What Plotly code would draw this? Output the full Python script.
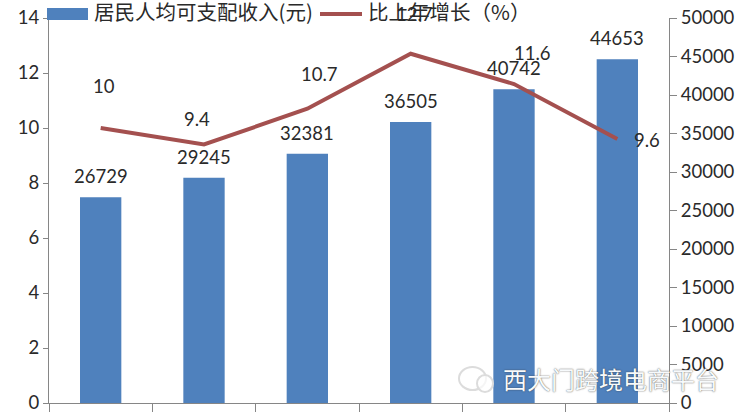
import plotly.graph_objects as go

positions = [0, 1, 2, 3, 4, 5]
income = [26729, 29245, 32381, 36505, 40742, 44653]
growth = [10, 9.4, 10.7, 12.7, 11.6, 9.6]
income_name = "居民人均可支配收入(元)"
growth_name = "比上年增长（%）"
left_ticks = [0, 2, 4, 6, 8, 10, 12, 14]
right_ticks = [0, 5000, 10000, 15000, 20000, 25000, 30000, 35000, 40000, 45000, 50000]
category_edges = [-0.5, 0.5, 1.5, 2.5, 3.5, 4.5, 5.5]
growth_offsets = [(3, -42), (-7, -26), (12, -35), (4, -40), (18, -31), (30, 1)]
watermark = "西大门跨境电商平台"

INK = "#2a2a2a"
AXIS = "#868686"
NUM = "Lato, Carlito, Liberation Sans, sans-serif"
CJK = "Noto Sans CJK SC, sans-serif"
NUM_SIZE = 18.5

fig = go.Figure()
fig.add_trace(go.Bar(x=positions, y=income, name=income_name, width=0.4,
                     marker=dict(color="#4f81bd", line_width=0), yaxis="y", showlegend=False))
fig.add_trace(go.Scatter(x=positions, y=growth, name=growth_name, mode="lines",
                         line=dict(color="#a4504f", width=4), yaxis="y2", showlegend=False))

ann = []
for x, v in zip(positions, income):
    ann.append(dict(x=x, y=v, xref="x", yref="y", text=str(v), showarrow=False,
                    yshift=21, font=dict(family=NUM, size=NUM_SIZE, color=INK)))
for x, v, (dx, dy) in zip(positions, growth, growth_offsets):
    ann.append(dict(x=x, y=v, xref="x", yref="y2", text=str(v), showarrow=False,
                    xshift=dx, yshift=-dy, font=dict(family=NUM, size=NUM_SIZE, color=INK)))

W, H = 741, 415
L, R, T, B = 49, 669, 18, 403
def fx(v): return (v - L) / (R - L)
def fy(v): return (B - v) / (B - T)

# legend keys and labels
shapes = [
    dict(type="rect", xref="paper", yref="paper", x0=fx(47), x1=fx(88), y0=fy(20), y1=fy(8),
         fillcolor="#4f81bd", line_width=0, layer="above"),
    dict(type="line", xref="paper", yref="paper", x0=fx(320), x1=fx(362), y0=fy(14), y1=fy(14),
         line=dict(color="#a4504f", width=4), layer="above"),
    dict(type="circle", xref="paper", yref="paper", x0=fx(459), x1=fx(486), y0=fy(390), y1=fy(367),
         fillcolor="rgba(255,255,255,0.7)", line=dict(color="#dcdcdc", width=2), layer="above"),
    dict(type="circle", xref="paper", yref="paper", x0=fx(477), x1=fx(493), y0=fy(392), y1=fy(375),
         fillcolor="rgba(255,255,255,0.7)", line=dict(color="#dcdcdc", width=2), layer="above"),
]
ann.append(dict(xref="paper", yref="paper", x=fx(92), y=fy(11), xanchor="left", yanchor="middle",
                text=income_name, showarrow=False, font=dict(family=CJK, size=20.5, color=INK)))
ann.append(dict(xref="paper", yref="paper", x=fx(366), y=fy(11), xanchor="left", yanchor="middle",
                text=growth_name, showarrow=False, font=dict(family=CJK, size=20.5, color=INK)))
ann.append(dict(xref="paper", yref="paper", x=fx(501), y=fy(378), xanchor="left", yanchor="middle",
                text=watermark, showarrow=False,
                font=dict(family=CJK, size=24, color="#f7fafc", shadow="0 0 1.5px #333")))

fig.update_layout(
    width=W, height=H, margin=dict(l=L, r=W - R, t=T, b=H - B, pad=0),
    paper_bgcolor="white", plot_bgcolor="white", bargap=0.6, showlegend=False,
    xaxis=dict(range=[-0.5, 5.5], tickmode="array", tickvals=category_edges, automargin=False,
               ticktext=[""] * len(category_edges), ticks="outside", ticklen=8, tickcolor=AXIS,
               showgrid=False, showline=True, linecolor=AXIS, zeroline=False),
    yaxis=dict(range=[0, 50000], side="right", tickvals=right_ticks, ticks="outside", ticklen=7,
               tickformat="d", automargin=False,
               tickcolor=AXIS, showgrid=False, showline=True, linecolor=AXIS, zeroline=False,
               tickfont=dict(family=NUM, size=NUM_SIZE, color=INK)),
    yaxis2=dict(range=[0, 14], side="left", overlaying="y", tickvals=left_ticks, ticks="outside",
                automargin=False,
                ticklen=5, tickcolor=AXIS, showgrid=False, showline=True, linecolor=AXIS,
                zeroline=False, tickfont=dict(family=NUM, size=NUM_SIZE, color=INK)),
    annotations=ann, shapes=shapes,
)
fig.write_html("out.html", config={"displayModeBar": False},
               post_script="document.body.style.margin='0';document.documentElement.style.overflow='hidden';")
